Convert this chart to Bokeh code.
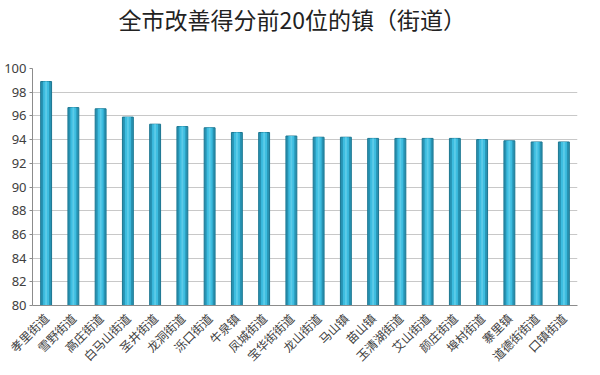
import math
from bokeh.plotting import figure
from bokeh.models import ColumnDataSource, Title, FixedTicker, Range1d
from bokeh.embed import file_html
from bokeh.resources import INLINE

towns = ["孝里街道", "雪野街道", "高庄街道", "白马山街道", "圣井街道", "龙洞街道",
         "泺口街道", "牛泉镇", "凤城街道", "宝华街街道", "龙山街道", "马山镇",
         "苗山镇", "玉清湖街道", "艾山街道", "颜庄街道", "埠村街道", "寨里镇",
         "道德街街道", "口镇街道"]
scores = [98.9, 96.7, 96.6, 95.9, 95.3, 95.1, 95.0, 94.6, 94.6, 94.3,
          94.2, 94.2, 94.1, 94.1, 94.1, 94.1, 94.0, 93.9, 93.8, 93.8]
y_ticks = [80, 82, 84, 86, 88, 90, 92, 94, 96, 98, 100]
title_text = "全市改善得分前20位的镇（街道）"

src = ColumnDataSource(dict(town=towns, score=scores))

p = figure(x_range=towns, y_range=Range1d(80, 100),
           frame_width=545, frame_height=237,
           output_backend="svg", toolbar_location=None,
           min_border_left=32, min_border_right=7, min_border_top=10,
           min_border_bottom=10, outline_line_color=None,
           background_fill_color="white", border_fill_color="white")
p.title.visible = False

# the trailing empty line leaves room between the title and the plot frame
t = Title(text=title_text + "\n", align="left", offset=86,
          text_font="Noto Sans CJK SC", text_font_size="23px",
          text_font_style="normal", text_color="#222222", standoff=0,
          text_line_height=0.95)
p.add_layout(t, "above")

# bars: outer shade + inner highlight
p.vbar(x="town", top="score", bottom=80, width=0.40, source=src,
       fill_color="#2793b3", line_color="#1c7690", line_width=1)
p.vbar(x="town", top="score", bottom=80, width=0.22, source=src,
       fill_color="#3dbde0", line_color=None)
p.vbar(x="town", top="score", bottom=80, width=0.07, source=src,
       fill_color="#5ccbe8", line_color=None)

yaxis = p.yaxis[0]
yaxis.ticker = FixedTicker(ticks=y_ticks)
yaxis.major_label_text_font = "Noto Sans"
yaxis.major_label_text_font_size = "13px"
yaxis.major_label_text_color = "#404040"
yaxis.axis_line_color = "#8c8c8c"
yaxis.major_tick_line_color = "#8c8c8c"
yaxis.major_tick_out = 3
yaxis.major_tick_in = 0
yaxis.major_label_standoff = 3
yaxis.minor_tick_line_color = None

xaxis = p.below[0]
xaxis.major_label_orientation = math.pi / 4
xaxis.major_label_text_font = "Noto Sans CJK SC"
xaxis.major_label_text_font_size = "12px"
xaxis.major_label_text_color = "#404040"
xaxis.axis_line_color = "#8c8c8c"
xaxis.major_tick_line_color = None
xaxis.major_label_standoff = 4

p.xgrid.grid_line_color = None
p.ygrid.grid_line_color = "#c8c8c8"
p.ygrid.grid_line_width = 1

with open("out.html", "w") as f:
    f.write(file_html(p, INLINE))
